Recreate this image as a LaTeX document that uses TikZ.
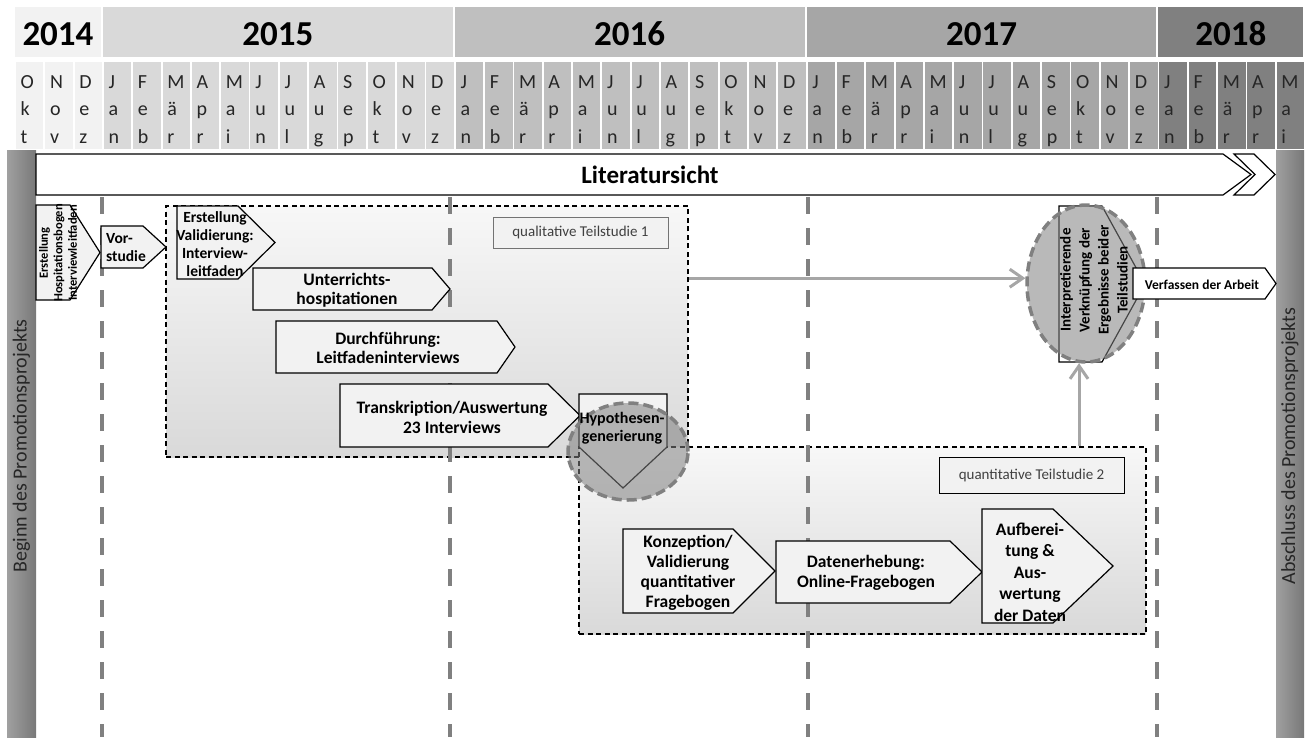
\documentclass[tikz,border=0pt]{standalone}
\usepackage{fontspec}
\setmainfont{Carlito}
\usetikzlibrary{arrows.meta,shapes.geometric}

\definecolor{yc0}{HTML}{F2F2F2}
\definecolor{yc1}{HTML}{D9D9D9}
\definecolor{yc2}{HTML}{BFBFBF}
\definecolor{yc3}{HTML}{A6A6A6}
\definecolor{yc4}{HTML}{808080}
\definecolor{phasefill}{HTML}{F2F2F2}
\definecolor{sepgrey}{HTML}{808080}
\definecolor{linkgrey}{HTML}{A6A6A6}
\definecolor{bartext}{HTML}{262626}
\definecolor{barA}{HTML}{A0A0A0}
\definecolor{barB}{HTML}{787878}

\newcommand{\fs}[2]{\fontsize{#1}{#2}\selectfont}

\begin{document}
\begin{tikzpicture}[x=1pt,y=-1pt,
    phase/.style={draw=black,line width=1.2pt,fill=phasefill,line join=miter},
    ptext/.style={align=center,inner sep=0pt,font=\bfseries\fs{17.5}{19}},
    studybox/.style={draw=black,dash pattern=on 5pt off 3.5pt,line width=1.1pt,top color=white!97!black,bottom color=yc1,inner sep=0pt},
    studytag/.style={draw=black!55,line width=0.9pt,fill=phasefill,font=\fs{15}{18},text=black!75,inner sep=0pt},
    yearsep/.style={draw=sepgrey,line width=4.3pt,dash pattern=on 17pt off 14pt},
    blob/.style={ellipse,draw=sepgrey,line width=3.5pt,dash pattern=on 10pt off 5pt,fill=sepgrey,fill opacity=0.55,inner sep=0pt},
    month/.style={anchor=north west,inner sep=0pt,align=left,font=\fs{20}{27.5},text=bartext},
    greyarrow/.style={draw=linkgrey,line width=3pt,-{Straight Barb[length=13pt,width=18pt]}}]
    \useasboundingbox (0,0) rectangle (1309,737);

    % header: years
    \foreach \yr/\s/\e/\k in {2014/0/3/0,2015/3/15/1,2016/15/27/2,2017/27/39/3,2018/39/44/4} {
        \fill[yc\k] (15+\s*29.32,7) rectangle (13+\e*29.32,57);
        \node[anchor=base,inner sep=0pt,font=\bfseries\fs{35}{38}] (y\yr) at (14+\s*14.66+\e*14.66,45) {\yr};
    }
    % header: months
    \foreach \a/\b/\c [count=\i from 0] in {O/k/t,N/o/v,D/e/z,
        J/a/n,F/e/b,M/ä/r,A/p/r,M/a/i,J/u/n,J/u/l,A/u/g,S/e/p,O/k/t,N/o/v,D/e/z,
        J/a/n,F/e/b,M/ä/r,A/p/r,M/a/i,J/u/n,J/u/l,A/u/g,S/e/p,O/k/t,N/o/v,D/e/z,
        J/a/n,F/e/b,M/ä/r,A/p/r,M/a/i,J/u/n,J/u/l,A/u/g,S/e/p,O/k/t,N/o/v,D/e/z,
        J/a/n,F/e/b,M/ä/r,A/p/r,M/a/i} {
        \pgfmathtruncatemacro\k{\i<3?0:(\i<15?1:(\i<27?2:(\i<39?3:4)))}
        \fill[yc\k] (15.9+\i*29.32,62) rectangle (43.4+\i*29.32,149);
        \node[month] (m\i) at (20.5+\i*29.32,75) {\a\\\b\\\c};
    }

    % start and end bars
    \shade[left color=barA,right color=barB] (7,150) rectangle (36,737);
    \shade[left color=barA,right color=barB] (1276,150) rectangle (1304,737);
    \node[rotate=90,inner sep=0pt,font=\fs{20}{24},text=bartext] (beginn) at (21.5,446) {Beginn des Promotionsprojekts};
    \node[rotate=90,inner sep=0pt,font=\fs{20}{24},text=bartext] (abschluss) at (1290,446) {Abschluss des Promotionsprojekts};

    % study boxes
    \node[studybox,minimum width=522pt,minimum height=251pt] (qual) at (427,331.5) {};
    \node[studybox,minimum width=567pt,minimum height=187pt] (quant) at (862.5,540.5) {};
    \node[studytag,minimum width=175pt,minimum height=31pt] (tag1) at (580.5,232.5) {qualitative Teilstudie 1};
    \node[studytag,draw=black,minimum width=185pt,minimum height=36pt] (tag2) at (1031.5,475) {quantitative Teilstudie 2};

    % year separators
    \foreach \x in {102,450,808,1157}
        \draw[yearsep] (\x,197) -- (\x,737);

    % Literatursicht
    \draw[phase,fill=white] (36,154) -- (1223,154) -- (1251,174.5) -- (1223,195) -- (36,195) -- cycle;
    \draw[phase,fill=white] (1234,154) -- (1254,154) -- (1275,174.5) -- (1254,195) -- (1234,195) -- (1255,174.5) -- cycle;
    \node[ptext,font=\bfseries\fs{25}{28}] (lit) at (650,175) {Literatursicht};

    % qualitative phases
    \draw[phase] (36,205) -- (70,205) -- (100,252.5) -- (70,300) -- (36,300) -- cycle;
    \node[ptext,rotate=90,font=\bfseries\fs{12.5}{14.5}] (hosp) at (58,253) {Erstellung\\Hospitationsbogen\\Interviewleitfaden};
    \draw[phase] (101,226) -- (143,226) -- (166,247) -- (143,268) -- (101,268) -- cycle;
    \node[ptext,align=left,anchor=west,font=\bfseries\fs{15.5}{18}] (vor) at (106,248) {Vor-\\studie};
    \draw[phase] (177,206) -- (238,206) -- (275,242.5) -- (238,279) -- (177,279) -- cycle;
    \node[ptext,font=\bfseries\fs{15.5}{18}] (erst) at (215,244) {Erstellung\\Validierung:\\Interview-\\leitfaden};
    \draw[phase] (253,268) -- (432,268) -- (450,289) -- (432,310) -- (253,310) -- cycle;
    \node[ptext] (unt) at (347,290) {Unterrichts-\\hospitationen};
    \draw[phase] (276,321) -- (497,321) -- (515,347) -- (497,373) -- (276,373) -- cycle;
    \node[ptext] (durch) at (388,348) {Durchführung:\\Leitfadeninterviews};
    \draw[phase] (340,384) -- (548,384) -- (580,415.5) -- (548,447) -- (340,447) -- cycle;
    \node[ptext,font=\bfseries\fs{17.5}{20}] (trans) at (452,417) {Transkription/Auswertung\\23 Interviews};
    \draw[phase] (579,394) -- (667,394) -- (667,447) -- (623,488) -- (579,447) -- cycle;
    \node[blob,minimum width=120pt,minimum height=97pt] (hypblob) at (628,451.5) {};
    \node[ptext,font=\bfseries\fs{16}{18}] (hyp) at (622,428) {Hypothesen-\\generierung};

    % quantitative phases
    \draw[phase] (623,529) -- (733,529) -- (775,571) -- (733,613) -- (623,613) -- cycle;
    \node[ptext,font=\bfseries\fs{17.5}{20}] (konz) at (688,573) {Konzeption/\\Validierung\\quantitativer\\Fragebogen};
    \draw[phase] (776,541) -- (950,541) -- (982,572) -- (950,603) -- (776,603) -- cycle;
    \node[ptext,font=\bfseries\fs{17.5}{20}] (daten) at (866,573) {Datenerhebung:\\Online-Fragebogen};
    \draw[phase] (982,509) -- (1053,509) -- (1113,566) -- (1053,623) -- (982,623) -- cycle;
    \node[ptext,font=\bfseries\fs{17.5}{21.5}] (aufb) at (1030,572) {Aufberei-\\tung \&\\Aus-\\wertung\\der Daten};

    % merging both studies
    \draw[phase,fill=white] (1059,206) -- (1102,206) -- (1145,284) -- (1102,362) -- (1059,362) -- cycle;
    \node[blob,minimum width=118pt,minimum height=157pt] (ell) at (1086,283.5) {};
    \node[ptext,rotate=90,font=\bfseries\fs{15}{19}] (interp) at (1094,280) {Interpretierende\\Verknüpfung der\\Ergebnisse beider\\Teilstudien};
    \draw[phase,fill=white] (1133,268) -- (1265,268) -- (1276,283.5) -- (1265,299) -- (1133,299) -- cycle;
    \node[ptext,font=\bfseries\fs{13.5}{16}] (verf) at (1202,285) {Verfassen der Arbeit};

    \draw[greyarrow] (qual.east |- ell.175) -- (ell.175);
    \draw[greyarrow] (quant.north -| ell.265) -- (ell.265);
\end{tikzpicture}
\end{document}
